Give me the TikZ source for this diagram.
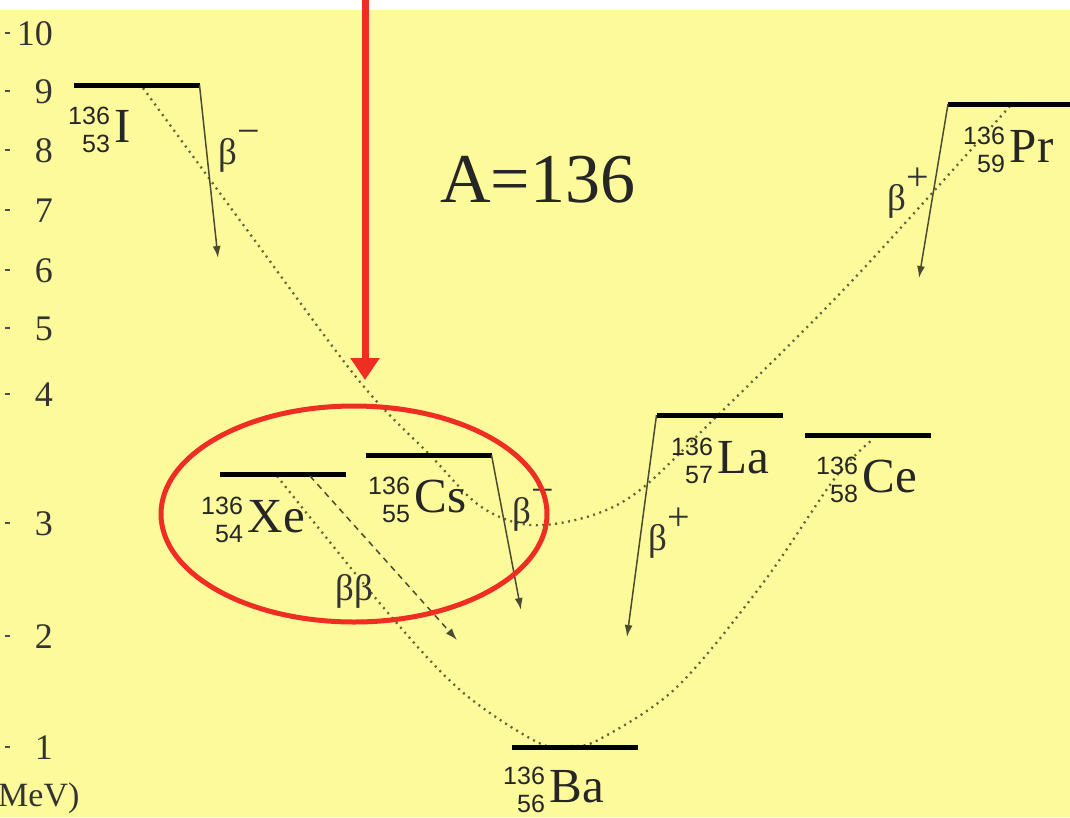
\documentclass[tikz,border=0pt]{standalone}
\usepackage{fontspec}
\setmainfont{Liberation Serif}
\newfontfamily\scrfont{Liberation Sans}
\usetikzlibrary{arrows.meta}
\definecolor{bgyel}{RGB}{253,250,155}
\definecolor{ink}{RGB}{75,75,50}
\definecolor{dotc}{RGB}{100,100,60}
\definecolor{redc}{RGB}{238,45,35}
\newcommand{\nuc}[3]{\raisebox{-10pt}{\scrfont\fontsize{25}{25}\selectfont\begin{tabular}[b]{@{}r@{}}#1\\[3pt]#2\end{tabular}}\kern5pt{\fontsize{49}{49}\selectfont #3}}
\newcommand{\bdec}[1]{{\fontsize{37}{37}\selectfont β\raisebox{20pt}{\fontsize{40}{40}\selectfont #1}}}
\tikzset{
  level/.style={fill=black, inner sep=0pt, outer sep=0pt, minimum width=126pt, minimum height=5pt},
  isolab/.style={anchor=base west, inner sep=0pt, text=black!85},
  axisnum/.style={anchor=base east, inner sep=0pt, font=\fontsize{36}{36}\selectfont, text=black!80},
  tick/.style={line width=1.3pt, black!70},
  decay/.style={ink, line width=1.5pt, -{Latex[length=12pt,width=8pt]}},
  bbdecay/.style={ink, line width=1.5pt, dash pattern=on 6pt off 5pt, -{Latex[length=12pt,width=8pt]}},
  parab/.style={dotc, line width=2.3pt, dash pattern=on 2pt off 4.5pt},
  declab/.style={anchor=base west, inner sep=0pt, text=black!80},
  redarrow/.style={redc, line width=7pt, -{Triangle[length=22pt,width=28pt]}},
}
\begin{document}
\begin{tikzpicture}[x=1pt, y=-1pt]
\useasboundingbox (0,0) rectangle (1070,817);
\fill[white] (0,0) rectangle (1070,817);
\fill[bgyel] (0,10) rectangle (1070,817);

% axis
\foreach \v/\yy in {10/33, 9/91, 8/150, 7/210, 6/270, 5/328, 4/394, 3/523, 2/636, 1/747} {
  \node[axisnum] (ax\v) at (53,\yy+12) {\v};
  \draw[tick] (5,\yy) -- (10,\yy);
}
\node[anchor=base west, inner sep=0pt, font=\fontsize{34}{34}\selectfont, text=black!80] (mev) at (-2,806) {MeV)};

% parabolas
\draw[parab] plot[smooth, tension=0.55] coordinates {(143,88) (250,234) (360,382) (430,455) (480,506) (530,525) (590,516) (640,490) (710,423) (850,283) (1010,106)};
\draw[parab] plot[smooth, tension=0.55] coordinates {(277,476) (383,607) (460,690) (537,742) (570,746) (600,739) (677,687) (763,583) (835,478) (872,440)};

% levels
\node[level] (I)  at (136.5,85) {};
\node[level] (Pr) at (1011,104) {};
\node[level] (Xe) at (282.5,474) {};
\node[level] (Cs) at (428.5,455) {};
\node[level] (La) at (719.5,415) {};
\node[level] (Ce) at (867.5,435) {};
\node[level] (Ba) at (574.5,747) {};

% labels
\node[isolab] (lI)  at (68,142)  {\nuc{136}{53}{I}};
\node[isolab] (lPr) at (963,162) {\nuc{136}{59}{Pr}};
\node[isolab] (lXe) at (201,532) {\nuc{136}{54}{Xe}};
\node[isolab] (lCs) at (368,512) {\nuc{136}{55}{Cs}};
\node[isolab] (lLa) at (671,473) {\nuc{136}{57}{La}};
\node[isolab] (lCe) at (816,492) {\nuc{136}{58}{Ce}};
\node[isolab] (lBa) at (503,802) {\nuc{136}{56}{Ba}};

\node[anchor=base west, inner sep=0pt, font=\fontsize{70}{70}\selectfont, text=black!85] (A) at (440,202) {A=136};

% decays
\coordinate (eI)  at (218,258);
\coordinate (ePr) at (919,278);
\coordinate (eCs) at (521,610);
\coordinate (eLa) at (627,637);
\coordinate (sbb) at (310,476);
\coordinate (ebb) at (457,640);
\draw[decay] (I.east) -- (eI);
\draw[decay] (Pr.west) -- (ePr);
\draw[decay] (Cs.east) -- (eCs);
\draw[decay] (La.west) -- (eLa);
\draw[bbdecay] (sbb) -- (ebb);

\node[declab] (bI)  at (218,164) {\bdec{−}};
\node[declab] (bPr) at (887,210) {\bdec{+}};
\node[declab] (bCs) at (512,523) {\bdec{−}};
\node[declab] (bLa) at (648,550) {\bdec{+}};
\node[declab, font=\fontsize{37}{37}\selectfont] (bb) at (335,600) {ββ};

% red highlight
\draw[redc, line width=5pt] (354,514) ellipse [x radius=193, y radius=108];
\coordinate (rtop) at (365,0);
\coordinate (rtip) at (365,380);
\draw[redarrow] (rtop) -- (rtip);
\end{tikzpicture}
\end{document}
